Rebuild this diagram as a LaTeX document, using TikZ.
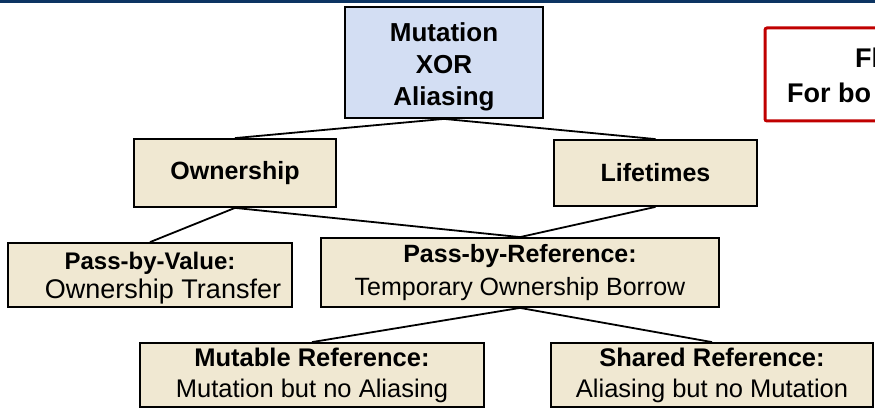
\documentclass[tikz,border=0pt]{standalone}
\usepackage{fontspec}
\setmainfont{Liberation Sans}
\begin{document}
\begin{tikzpicture}[x=1pt,y=-1pt,
  box/.style={draw=black, line width=1.8pt, fill=tanfill, align=center,
    inner sep=0pt, font=\fontsize{25}{30}\selectfont},
  link/.style={draw=black, line width=1.8pt}]
\definecolor{tanfill}{RGB}{240,232,210}
\definecolor{bluefill}{RGB}{211,222,243}
\definecolor{navy}{RGB}{12,52,98}
\definecolor{alertred}{RGB}{192,0,0}
\useasboundingbox (0,0) rectangle (875,409);
\clip (0,0) rectangle (875,409);
% header band
\fill[navy] (0,0) rectangle (875,3.5);
% root concept (text block sits a little below the box centre)
\node[box, fill=bluefill, minimum width=198pt, minimum height=111pt,
  font=\fontsize{26}{32}\selectfont\bfseries] (root) at (444,62.5)
  {\raisebox{-5pt}[\height][\depth]{\begin{tabular}{@{}c@{}}Mutation\\XOR\\Aliasing\end{tabular}}};
% second level
\node[box, minimum width=202pt, minimum height=68pt, font=\fontsize{25}{29}\selectfont\bfseries]
  (own) at (235,173) {Ownership};
\node[box, minimum width=203pt, minimum height=66pt, font=\fontsize{25}{29}\selectfont\bfseries]
  (life) at (655.5,173) {Lifetimes};
% passing modes
\node[box, minimum width=284pt, minimum height=64pt, font=\fontsize{27}{29}\selectfont]
  (pbv) at (150,275)
  {\raisebox{-3pt}[\height][\depth]{\begin{tabular}{@{}c@{}}{\fontsize{24}{29}\selectfont\bfseries Pass-by-Value:}\\\hspace*{26pt}Ownership Transfer\end{tabular}}};
\node[box, minimum width=398pt, minimum height=69pt, font=\fontsize{25}{33}\selectfont]
  (pbr) at (520,272.5)
  {\textbf{Pass-by-Reference:}\\Temporary Ownership Borrow};
% reference kinds
\node[box, minimum width=344pt, minimum height=64pt, font=\fontsize{25.5}{31}\selectfont]
  (mut) at (312,375)
  {\textbf{Mutable Reference:}\\Mutation but no Aliasing};
\node[box, minimum width=322pt, minimum height=64pt, font=\fontsize{25.5}{31}\selectfont]
  (shr) at (712,375)
  {\textbf{Shared Reference:}\\Aliasing but no Mutation};
% side note, running past the right edge
\draw[alertred, line width=3pt, rounded corners=2pt] (765,28) rectangle (910,121);
\node[anchor=base west, inner sep=0pt, font=\fontsize{27}{32}\selectfont\bfseries]
  (note1) at (855,68) {Fl};
\node[anchor=base west, inner sep=0pt, font=\fontsize{27}{32}\selectfont\bfseries]
  (note2) at (787,103) {For bo};
% connectors
\draw[link] (root.south) -- (own.north);
\draw[link] (root.south) -- (life.north);
\draw[link] (own.south) -- (pbv.north);
\draw[link] (own.south) -- (pbr.north);
\draw[link] (life.south) -- (pbr.north);
\draw[link] (pbr.south) -- (mut.north);
\draw[link] (pbr.south) -- (shr.north);
\end{tikzpicture}
\end{document}
